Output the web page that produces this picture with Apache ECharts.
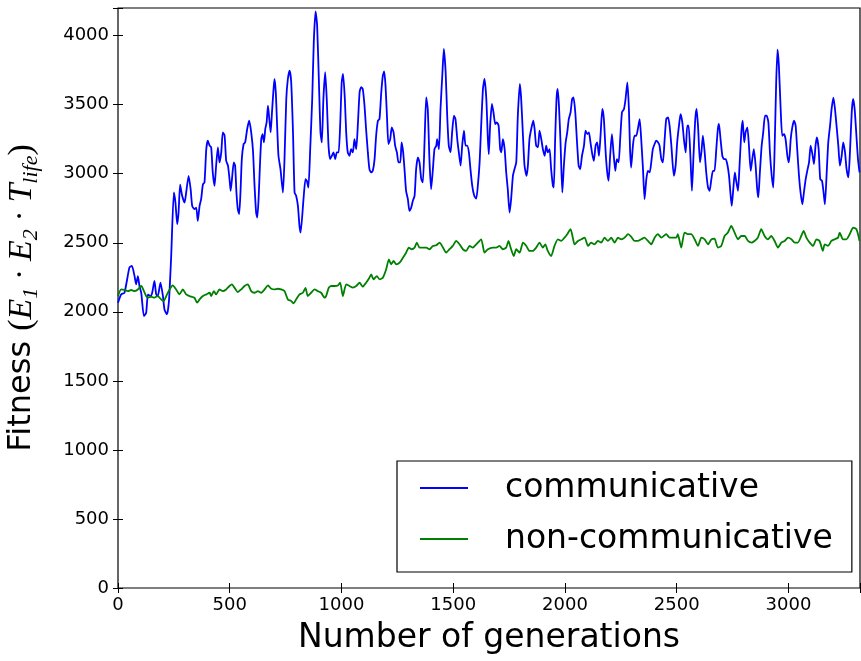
<!DOCTYPE html>
<html>
<head>
<meta charset="utf-8">
<script src="https://cdn.jsdelivr.net/npm/echarts@6/dist/echarts.min.js"></script>
<style>
html,body{margin:0;padding:0;background:#fff;}
#chart{width:861px;height:661px;}
</style>
</head>
<body>
<div id="chart"></div>
<script>
// ---- data (generation, fitness) ----
const seriesNames = ['communicative', 'non-communicative'];
const xTicks = [0, 500, 1000, 1500, 2000, 2500, 3000];
const yTicks = [0, 500, 1000, 1500, 2000, 2500, 3000, 3500, 4000];

const communicative = [
[0,2066],[14,2126],[29,2138],[51,2320],[62,2332],[74,2259],[81,2199],[89,2259],[96,2187],[104,2138],[116,1969],[126,1993],[134,2126],[145,2114],[153,2138],[163,2223],[171,2126],[178,2114],[190,2211],[201,2114],[208,2017],[219,1981],[228,2078],[238,2404],[250,2864],[257,2791],[265,2634],[271,2719],[278,2920],[287,2840],[298,2791],[305,2864],[316,2985],[325,2888],[332,2767],[342,2743],[350,2755],[357,2658],[365,2767],[372,2816],[380,2924],[387,2937],[395,3178],[402,3239],[410,3203],[417,3191],[424,3009],[432,2912],[439,3058],[447,3191],[454,3082],[462,3154],[469,3299],[477,3275],[484,3094],[492,3058],[499,2961],[504,2876],[510,2961],[518,3082],[524,3058],[530,2864],[536,2743],[542,2707],[548,2864],[554,3106],[562,3215],[569,3227],[578,3324],[587,3384],[596,3299],[604,3166],[611,2912],[618,2719],[623,2683],[629,2816],[635,3058],[641,3251],[647,3287],[653,3227],[659,3324],[665,3372],[671,3493],[677,3396],[683,3299],[689,3445],[694,3566],[700,3686],[706,3590],[712,3348],[718,3130],[727,3033],[738,2864],[745,3106],[753,3541],[760,3686],[768,3747],[775,3662],[783,3299],[790,2864],[797,2840],[805,2767],[812,2622],[817,2574],
[830,2816],[839,2961],[845,2949],[852,2900],[860,3178],[869,3541],[876,3953],[884,4175],[891,4073],[899,3662],[906,3299],[912,3227],[919,3541],[927,3735],[934,3541],[942,3203],[949,3106],[957,3130],[964,3154],[972,3106],[979,3154],[987,3154],[994,3348],[1001,3662],[1007,3723],[1015,3541],[1021,3299],[1028,3154],[1036,3130],[1043,3178],[1051,3154],[1058,3251],[1066,3178],[1073,3348],[1081,3590],[1088,3626],[1095,3614],[1103,3493],[1110,3324],[1118,3154],[1125,3033],[1133,3009],[1140,3021],[1148,3106],[1155,3275],[1163,3384],[1170,3396],[1178,3590],[1185,3711],[1191,3740],[1197,3638],[1204,3396],[1210,3215],[1218,3251],[1225,3336],[1233,3299],[1240,3203],[1248,3154],[1255,3082],[1263,3082],[1269,3227],[1276,3154],[1283,3009],[1289,2876],[1297,2816],[1304,2731],[1312,2755],[1319,2803],[1327,2840],[1334,3033],[1342,3118],[1349,3082],[1357,2961],[1364,2937],[1372,3251],[1379,3553],[1386,3469],[1394,3082],[1401,2888],[1409,3033],[1416,3178],[1424,3203],[1428,3251],[1436,3178],[1443,3469],[1451,3711],[1458,3904],[1466,3735],[1473,3420],[1480,3203],[1488,3154],[1495,3299],[1503,3420],[1510,3396],[1518,3251],[1525,3154],[1533,3058],[1540,3203],[1548,3311],[1555,3203],[1562,3203],[1570,3154],[1577,3033],[1585,2912],[1594,2840],[1603,2820],[1610,2912],[1618,3082],[1625,3348],[1633,3614],[1640,3686],[1648,3541],
[1655,3251],[1659,3142],[1665,3348],[1673,3505],[1680,3445],[1688,3360],[1695,3372],[1703,3348],[1710,3178],[1715,3154],[1722,3251],[1730,3178],[1737,3009],[1744,2888],[1752,2719],[1759,2816],[1767,2985],[1774,3033],[1782,3082],[1789,3420],[1798,3650],[1804,3541],[1812,3275],[1819,3058],[1828,2985],[1834,3058],[1841,3251],[1849,3324],[1858,3384],[1864,3324],[1871,3203],[1879,3191],[1886,3311],[1894,3251],[1901,3178],[1909,3130],[1916,3203],[1923,3154],[1931,3178],[1938,3033],[1946,2912],[1950,2900],[1956,3251],[1962,3541],[1967,3614],[1973,3493],[1980,3227],[1988,2864],[1995,3058],[2003,3227],[2010,3299],[2017,3396],[2025,3445],[2032,3541],[2038,3553],[2046,3445],[2053,3251],[2061,3058],[2068,3033],[2076,3130],[2085,3203],[2092,3311],[2100,3287],[2107,3299],[2114,3227],[2122,3142],[2129,3094],[2137,3203],[2144,3227],[2152,3130],[2159,3275],[2167,3469],[2174,3396],[2182,3154],[2189,3009],[2195,2949],[2202,3130],[2210,3287],[2217,3154],[2225,3021],[2232,3106],[2240,3082],[2247,3251],[2255,3445],[2264,3469],[2271,3541],[2279,3662],[2286,3469],[2291,3178],[2296,3045],[2304,3203],[2311,3275],[2319,3275],[2326,3324],[2334,3396],[2341,3251],[2349,3033],[2356,2816],[2364,2961],[2371,3021],[2379,3009],[2386,3082],[2393,3178],[2401,3215],[2408,3239],[2416,3227],[2423,3203],[2431,3106],[2438,3082],[2446,3251],[2453,3396],[2461,3408],[2468,3348],[2476,3203],
[2487,2985],[2495,3058],[2502,3227],[2510,3348],[2517,3432],[2525,3372],[2532,3251],[2540,3154],[2547,3348],[2553,3348],[2561,3130],[2568,2876],[2575,3130],[2583,3396],[2589,3469],[2596,3324],[2604,3082],[2611,3166],[2617,3275],[2625,3154],[2632,3009],[2640,2900],[2647,2876],[2655,2961],[2662,3021],[2669,3021],[2677,3178],[2684,3324],[2689,3360],[2696,3251],[2704,3130],[2711,3106],[2719,3106],[2726,3070],[2734,2985],[2740,2864],[2746,2767],[2753,2888],[2760,3009],[2766,2949],[2774,2876],[2781,3058],[2789,3299],[2795,3384],[2802,3227],[2808,3299],[2816,3336],[2823,3203],[2831,3021],[2838,3106],[2845,3178],[2853,3058],[2860,2888],[2865,2828],[2872,3009],[2880,3203],[2887,3299],[2895,3420],[2902,3420],[2910,3372],[2917,3154],[2925,2985],[2932,2900],[2939,3251],[2945,3662],[2951,3899],[2957,3783],[2965,3469],[2972,3275],[2980,3287],[2987,3251],[2995,3130],[3002,3082],[3010,3251],[3017,3336],[3025,3384],[3032,3348],[3039,3178],[3047,2985],[3054,2864],[3062,2779],[3069,2864],[3077,2961],[3084,3021],[3092,3082],[3099,3203],[3107,3142],[3114,3070],[3121,3203],[3127,3263],[3135,3178],[3142,2961],[3150,2949],[3157,2864],[3163,2779],[3171,3009],[3178,3227],[3186,3348],[3193,3469],[3201,3551],[3208,3469],[3215,3348],[3223,3203],[3230,3058],[3238,3130],[3245,3227],[3253,3154],[3260,3033],[3268,2973],[3275,3154],[3283,3445],[3289,3541],[3296,3469],[3304,3275],[3311,3106],[3318,3009]
];

const nonCommunicative = [
[0,2114],[14,2162],[29,2158],[44,2150],[59,2158],[74,2150],[89,2162],[104,2187],[116,2150],[126,2114],[134,2102],[148,2109],[163,2102],[178,2114],[193,2090],[204,2078],[216,2114],[231,2162],[245,2191],[260,2162],[275,2126],[290,2162],[305,2126],[320,2114],[342,2102],[354,2066],[365,2090],[380,2114],[395,2126],[410,2138],[417,2114],[429,2150],[439,2126],[454,2162],[469,2150],[484,2162],[499,2187],[510,2199],[521,2175],[536,2143],[551,2162],[566,2187],[581,2199],[596,2150],[611,2138],[626,2150],[641,2138],[656,2162],[671,2191],[686,2167],[700,2162],[715,2167],[730,2162],[745,2150],[760,2090],[775,2078],[786,2061],[797,2090],[812,2126],
[827,2138],[839,2174],[849,2114],[864,2138],[879,2162],[894,2150],[909,2138],[924,2102],[931,2114],[943,2174],[954,2187],[969,2187],[984,2191],[994,2211],[1006,2114],[1021,2199],[1036,2187],[1051,2175],[1066,2187],[1081,2211],[1095,2182],[1110,2211],[1125,2247],[1133,2271],[1143,2235],[1158,2259],[1170,2235],[1185,2247],[1200,2308],[1212,2380],[1222,2344],[1233,2368],[1245,2344],[1260,2356],[1275,2392],[1289,2428],[1301,2465],[1312,2453],[1327,2465],[1337,2501],[1349,2465],[1364,2465],[1379,2465],[1394,2453],[1409,2477],[1424,2482],[1439,2501],[1454,2465],[1468,2428],[1483,2453],[1498,2477],[1513,2513],[1528,2489],[1543,2453],[1558,2441],[1573,2477],[1588,2465],[1603,2489],[1625,2525],[1640,2428],[1655,2453],
[1677,2465],[1692,2465],[1707,2477],[1722,2453],[1737,2465],[1747,2513],[1759,2453],[1771,2404],[1782,2453],[1797,2428],[1812,2501],[1827,2477],[1841,2441],[1856,2441],[1871,2465],[1886,2501],[1901,2465],[1912,2489],[1923,2441],[1938,2404],[1953,2477],[1968,2525],[1983,2513],[1998,2537],[2010,2562],[2025,2598],[2035,2537],[2043,2489],[2058,2513],[2073,2525],[2088,2537],[2103,2477],[2117,2501],[2132,2489],[2147,2513],[2162,2501],[2177,2537],[2192,2513],[2207,2537],[2222,2501],[2237,2537],[2252,2525],[2267,2537],[2282,2562],[2296,2545],[2311,2513],[2326,2513],[2341,2525],[2356,2537],[2371,2513],[2386,2489],[2401,2537],[2416,2562],[2431,2537],[2453,2562],[2468,2537],
[2483,2537],[2498,2537],[2505,2562],[2520,2465],[2535,2574],[2550,2562],[2565,2562],[2580,2525],[2595,2477],[2610,2537],[2625,2525],[2640,2489],[2655,2525],[2669,2530],[2684,2465],[2699,2477],[2714,2549],[2729,2574],[2744,2622],[2759,2574],[2774,2525],[2789,2549],[2804,2549],[2819,2513],[2834,2501],[2848,2513],[2863,2537],[2878,2598],[2893,2549],[2908,2525],[2923,2549],[2938,2513],[2953,2465],[2968,2501],[2983,2513],[2998,2537],[3013,2525],[3028,2501],[3042,2501],[3057,2549],[3068,2586],[3080,2537],[3095,2501],[3110,2477],[3125,2525],[3139,2513],[3154,2441],[3162,2489],[3177,2477],[3192,2513],[3207,2525],[3222,2537],[3229,2574],[3244,2525],[3259,2525],[3274,2562],[3289,2610],[3304,2598],[3318,2513]
];

const X_MAX = 3320, Y_MAX = 4200;

const SANS = "'DejaVu Sans', sans-serif";
const SERIF = "'Liberation Serif', 'DejaVu Serif', serif";

const chart = echarts.init(document.getElementById('chart'), null, {renderer: 'canvas'});

const tickStyle = {inside: true, length: 5, lineStyle: {color: '#000', width: 1}};

chart.setOption({
  animation: false,
  backgroundColor: '#fff',
  grid: {left: 118, top: 8, width: 742, height: 580, show: true, borderColor: '#000', borderWidth: 1.2, backgroundColor: 'transparent', containLabel: false, outerBoundsMode: 'none'},
  legend: {
    orient: 'vertical', left: 397, top: 461,
    padding: [7, 19, 13, 23],
    backgroundColor: '#fff', borderColor: '#000', borderWidth: 1.2,
    icon: 'rect', itemWidth: 48, itemHeight: 2, itemGap: 11,
    textStyle: {fontFamily: SANS, fontSize: 33, color: '#000', lineHeight: 40, padding: [0, 0, 0, 32]},
    data: seriesNames
  },
  xAxis: [{
    type: 'value', min: 0, max: X_MAX, interval: 500, position: 'bottom',
    axisLine: {show: false}, axisTick: tickStyle, splitLine: {show: false},
    axisLabel: {formatter: v => xTicks.indexOf(v) >= 0 ? String(v) : '', fontFamily: SANS, fontSize: 18, color: '#000', margin: 8},
    name: 'Number of generations', nameLocation: 'middle', nameGap: 34,
    nameTextStyle: {fontFamily: SANS, fontSize: 33, color: '#000', verticalAlign: 'top'}
  }, {
    type: 'value', min: 0, max: X_MAX, interval: 500, position: 'top',
    axisLine: {show: false}, axisTick: tickStyle, splitLine: {show: false}, axisLabel: {show: false}
  }],
  yAxis: [{
    type: 'value', min: 0, max: Y_MAX, interval: 500, position: 'left',
    axisLine: {show: false}, axisTick: tickStyle, splitLine: {show: false},
    axisLabel: {formatter: v => yTicks.indexOf(v) >= 0 ? String(v) : '', fontFamily: SANS, fontSize: 18, color: '#000', margin: 9},
    name: '{a|Fitness }{p|(}{m|E}{s|1}{o| · }{m|E}{s|2}{o| · }{m|T}{s|life}{p|)}',
    nameLocation: 'middle', nameRotate: 90, nameGap: 76,
    nameTextStyle: {
      color: '#000',
      rich: {
        a: {fontFamily: SANS, fontSize: 32, lineHeight: 40, color: '#000'},
        p: {fontFamily: SERIF, fontSize: 34, lineHeight: 40, color: '#000'},
        m: {fontFamily: SERIF, fontStyle: 'italic', fontSize: 34, lineHeight: 40, color: '#000'},
        o: {fontFamily: SERIF, fontSize: 32, lineHeight: 40, color: '#000'},
        s: {fontFamily: SERIF, fontStyle: 'italic', fontSize: 22, lineHeight: 22, verticalAlign: 'bottom', color: '#000'}
      }
    }
  }, {
    type: 'value', min: 0, max: Y_MAX, interval: 500, position: 'right',
    axisLine: {show: false}, axisTick: tickStyle, splitLine: {show: false}, axisLabel: {show: false}
  }],
  series: [{
    name: seriesNames[0], type: 'line', data: communicative, symbol: 'none', showSymbol: false,
    smooth: 0.2, lineStyle: {color: '#0000ff', width: 1.8}, itemStyle: {color: '#0000ff'}, z: 2
  }, {
    name: seriesNames[1], type: 'line', data: nonCommunicative, symbol: 'none', showSymbol: false,
    smooth: 0.2, lineStyle: {color: '#008000', width: 1.8}, itemStyle: {color: '#008000'}, z: 3
  }]
});
</script>
</body>
</html>
